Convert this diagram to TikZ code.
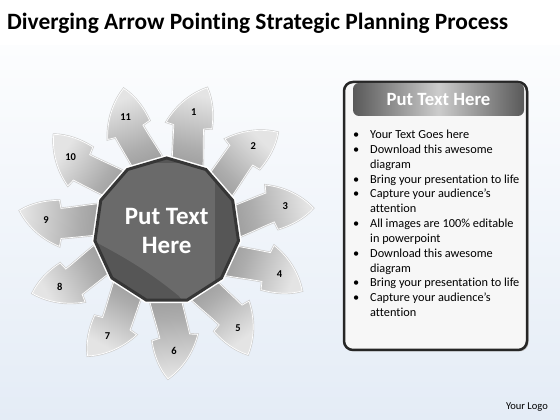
\documentclass[tikz,border=0pt]{standalone}
\usepackage{fontspec}
\setmainfont{Carlito}[Ligatures=NoCommon]
\usepackage{xcolor}
\usepackage{tikz}
\usetikzlibrary{shapes,backgrounds}
\usetikzlibrary{positioning}

\definecolor{hubdark}{HTML}{565656}
\definecolor{hublight}{HTML}{6A6A6A}
\definecolor{hubrim}{HTML}{363636}
\definecolor{bgblue}{HTML}{E4ECF6}
\definecolor{arrowin}{HTML}{858585}
\definecolor{arrowmid}{HTML}{ADADAD}
\definecolor{arrowout}{HTML}{E4E4E4}
\definecolor{panelfill}{HTML}{F7F7F7}

\begin{document}
\begin{tikzpicture}[x=1pt,y=1pt,
arrowbody/.style = {top color=arrowout, bottom color=arrowin, middle color=arrowmid,
                    preaction={draw=black!20, line width=2pt},
                    draw=white, line width=0.7pt},
num/.style  = {font=\fontsize{10.5}{10.5}\selectfont\bfseries, inner sep=0pt},
hub/.style  = {regular polygon, regular polygon sides=11, minimum size=145pt,
               inner sep=0pt, fill=hubdark, draw=hubrim, line width=3pt,
               preaction={draw=white, line width=6pt},
               text=white, align=center,
               font=\fontsize{25}{29}\selectfont\bfseries},
panel/.style = {draw=black!85, line width=2.5pt, rounded corners=9pt,
                fill=panelfill, minimum width=183pt, minimum height=268pt,
                inner sep=0pt,
                preaction={fill=black!25, transform canvas={xshift=1.5pt,yshift=-1.5pt}}},
headbar/.style = {minimum width=171pt, minimum height=33pt, inner sep=0pt,
                  rounded corners=6pt, left color=black!65, right color=black!65,
                  middle color=black!20, text=white,
                  font=\fontsize{18.7}{18.7}\selectfont\bfseries},
list/.style = {inner sep=0pt, anchor=base west,
               font=\fontsize{12.3}{14.85}\selectfont}
                        ]
\useasboundingbox (0,0) rectangle (560,420);
\shade[top color=white, bottom color=bgblue] (0,0) rectangle (560,420);
\fill[white] (0,375) rectangle (560,420);
%
\node[anchor=base west, inner sep=0pt, font=\fontsize{23.4}{23.4}\selectfont\bfseries]
    (title) at (7,390) {Diverging Arrow Pointing Strategic Planning Process};
%
\coordinate (c) at (166.7,189.5);
\foreach \k [evaluate=\k as \a using 78-(\k-1)*32.727,
             evaluate=\k as \s using -12-(\k-1)*32.727] in {1,...,11}
{
\begin{scope}[shift={(c)}, rotate=\a]
\shade[arrowbody, shading angle=\s]
    (30,-27) .. controls (65,-25) and (88,-18) .. (107,-15)
    -- (109,-23)
    .. controls (123,-22) and (137,-18) .. (148,-10)
    .. controls (139,5) and (124,17) .. (106,23)
    -- (105,15)
    .. controls (85,12) and (60,7) .. (30,4) -- cycle;
\node[num] (n\k) at (121,-2) {\k};
\end{scope}
}
%
\node[hub, path picture={
    \fill[hublight, shift={(path picture bounding box.center)}]
        (-65,29) .. controls (-10,2) and (20,-15) .. (54,-43)
        -- (90,-90) -- (90,90) -- (-90,90) -- cycle;}]
    (hub) at (c) {Put Text\\Here};
%
\node[panel] (panel) at (435.5,204) {};
\node[headbar] (head) at (438.5,320.5) {Put Text Here};
\node[list] (items) at (353,281.5) {%
\begin{tabular}[t]{@{}p{17pt}@{}l@{}}
\textbullet & Your Text Goes here\\
\textbullet & Download this awesome\\
            & diagram\\
\textbullet & Bring your presentation to life\\
\textbullet & Capture your audience’s\\
            & attention\\
\textbullet & All images are 100\% editable\\
            & in powerpoint\\
\textbullet & Download this awesome\\
            & diagram\\
\textbullet & Bring your presentation to life\\
\textbullet & Capture your audience’s\\
            & attention
\end{tabular}};
%
\node[anchor=base east, inner sep=0pt, font=\fontsize{10.5}{10.5}\selectfont]
    (logo) at (548,10) {Your Logo};
\end{tikzpicture}
\end{document}
